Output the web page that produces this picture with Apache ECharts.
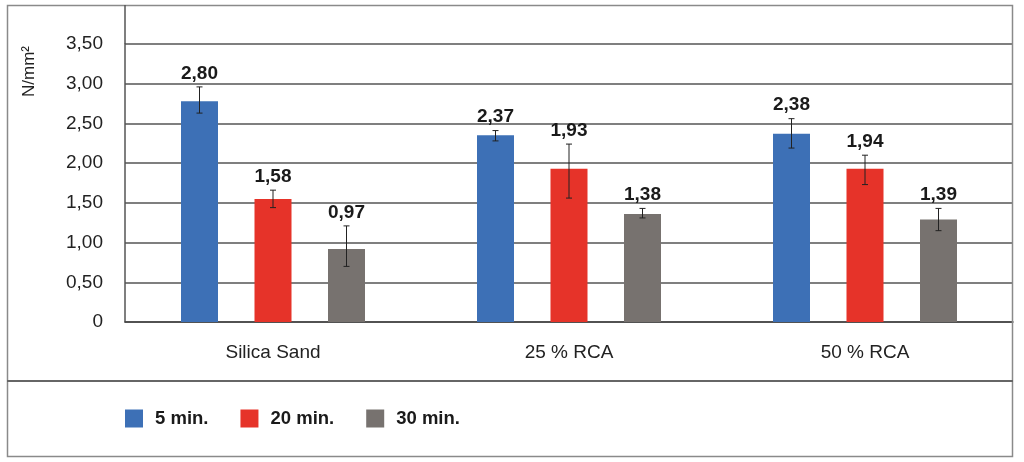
<!DOCTYPE html>
<html><head><meta charset="utf-8">
<script src="https://cdn.jsdelivr.net/npm/echarts@6/dist/echarts.min.js"></script>
<style>html,body{margin:0;padding:0;background:#fff}#c{width:1024px;height:462px}</style>
</head><body><div id="c"></div>
<script>
const categories = ['Silica Sand', '25 % RCA', '50 % RCA'];
const seriesNames = ['5 min.', '20 min.', '30 min.'];
const values5 = [2.78, 2.35, 2.37];
const values20 = [1.55, 1.93, 1.93];
const values30 = [0.92, 1.36, 1.29];
const errHigh5 = [2.96, 2.41, 2.56];
const errLow5 = [2.63, 2.28, 2.19];
const errHigh20 = [1.66, 2.24, 2.10];
const errLow20 = [1.44, 1.56, 1.73];
const errHigh30 = [1.21, 1.43, 1.43];
const errLow30 = [0.70, 1.31, 1.15];
const labels5 = ['2,80', '2,37', '2,38'];
const labels20 = ['1,58', '1,93', '1,94'];
const labels30 = ['0,97', '1,38', '1,39'];
const yTicks = [0, 0.5, 1, 1.5, 2, 2.5, 3, 3.5];

const colors = ['#3D70B6', '#E63329', '#77726F'];
const barW = 37, barStep = 73.5;
const FONT = "'Liberation Sans', Arial, sans-serif";

function errSeries(idx, hi, lo, labs) {
  return {
    type: 'custom',
    z: 5,
    data: categories.map((c, i) => [i, hi[i], lo[i]]),
    renderItem: function (params, api) {
      const off = (idx - 1) * barStep;
      const top = api.coord([api.value(0), api.value(1)]);
      const bot = api.coord([api.value(0), api.value(2)]);
      const x = top[0] + off;
      const cap = 3;
      return {
        type: 'group',
        children: [
          { type: 'line', shape: { x1: x, y1: top[1], x2: x, y2: bot[1] }, style: { stroke: '#222', lineWidth: 1 } },
          { type: 'line', shape: { x1: x - cap, y1: top[1], x2: x + cap, y2: top[1] }, style: { stroke: '#222', lineWidth: 1 } },
          { type: 'line', shape: { x1: x - cap, y1: bot[1], x2: x + cap, y2: bot[1] }, style: { stroke: '#222', lineWidth: 1 } },
          { type: 'text', style: { x: x, y: top[1] - 4, text: labs[params.dataIndex], align: 'center', verticalAlign: 'bottom', font: 'bold 19px ' + FONT, fill: '#1a1a1a' } }
        ]
      };
    }
  };
}

const chart = echarts.init(document.getElementById('c'), null, { renderer: 'canvas' });
chart.setOption({
  animation: false,
  backgroundColor: '#fff',
  grid: { left: 125, right: 11, top: 44, bottom: 140 },
  legend: {
    data: seriesNames,
    left: 125, top: 409, padding: 0,
    itemWidth: 18, itemHeight: 18, itemGap: 32,
    icon: 'rect',
    textStyle: { fontFamily: FONT, fontWeight: 'bold', fontSize: 18.5, color: '#1a1a1a', padding: [0, 0, 0, 7] }
  },
  xAxis: {
    type: 'category', data: categories,
    axisLine: { show: true, lineStyle: { color: '#444', width: 1.5 } },
    axisTick: { show: false },
    axisLabel: { fontFamily: FONT, fontSize: 19, color: '#222', margin: 21 }
  },
  yAxis: {
    type: 'value', min: 0, max: 3.5, interval: 0.5,
    axisLine: { show: true, lineStyle: { color: '#555', width: 1.5 } },
    axisTick: { show: false },
    axisLabel: { fontFamily: FONT, fontSize: 19, color: '#222', margin: 22,
      formatter: v => v === 0 ? '0' : v.toFixed(2).replace('.', ',') },
    splitLine: { show: true, lineStyle: { color: '#555', width: 1.5 } }
  },
  graphic: [
    { type: 'rect', shape: { x: 7.5, y: 5.5, width: 1005, height: 451 }, style: { fill: 'none', stroke: '#8a8a8a', lineWidth: 1.5 }, z: 100 },
    { type: 'line', shape: { x1: 125, y1: 5, x2: 125, y2: 44 }, style: { stroke: '#555', lineWidth: 1.5 }, z: 100 },
    { type: 'line', shape: { x1: 7, y1: 381, x2: 1013, y2: 381 }, style: { stroke: '#666', lineWidth: 2 }, z: 100 },
    { type: 'text', left: 21, top: 46, rotation: Math.PI / 2, style: { text: 'N/mm²', font: '17px ' + FONT, fill: '#222' }, z: 100 }
  ],
  series: [
    { name: seriesNames[0], type: 'bar', data: values5, barWidth: barW, barGap: (barStep - barW) / barW * 100 + '%', itemStyle: { color: colors[0] } },
    { name: seriesNames[1], type: 'bar', data: values20, barWidth: barW, itemStyle: { color: colors[1] } },
    { name: seriesNames[2], type: 'bar', data: values30, barWidth: barW, itemStyle: { color: colors[2] } },
    errSeries(0, errHigh5, errLow5, labels5),
    errSeries(1, errHigh20, errLow20, labels20),
    errSeries(2, errHigh30, errLow30, labels30)
  ]
});
</script></body></html>
